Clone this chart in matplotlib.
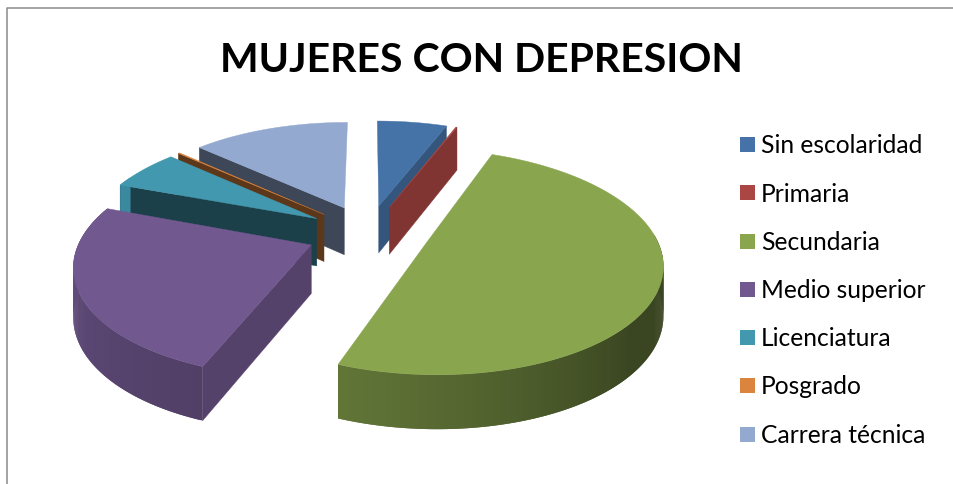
import numpy as np
import matplotlib
matplotlib.use('Agg')
import matplotlib.pyplot as plt
from matplotlib.patches import Polygon, Rectangle

# Exploded 3D pie drawn by hand, matplotlib has no real 3D pie

categories = ['Sin escolaridad', 'Primaria', 'Secundaria', 'Medio superior',
              'Licenciatura', 'Posgrado', 'Carrera técnica']
values = [5.85, 0.1, 49.88, 24.81, 6.03, 0.13, 13.2]
colors = ['#4572a7', '#aa4643', '#89a54e', '#71588f', '#4198af', '#db843d', '#93a9cf']

# projection of the pie plane into the pixel space of the figure
cx, cy = 368, 233
scale_x, scale_y = 229, 106.6
persp = 0.16
explode = 0.267
depth = 48


def project(x, y):
    s = 1 / (1 + persp * y)
    return cx + scale_x * x * s, cy - scale_y * y * s


def drop(y):
    # height of the side wall, a bit taller towards the viewer
    return depth * (1 / (1 + persp * y)) ** 0.65


def shade(color, f):
    rgb = np.array(matplotlib.colors.to_rgb(color))
    return tuple(rgb * f)


def wall_light(theta):
    # light on the outer wall, darkest on the right side of the pie
    return np.interp(theta % 360, [90, 130, 175, 203, 240, 290], [0.42, 0.42, 0.62, 0.72, 0.8, 0.9])


def draw_slice(ax, start, end, color):
    mid = np.radians((start + end) / 2)
    ox, oy = explode * np.sin(mid), explode * np.cos(mid)
    theta = np.linspace(start, end, max(int(end - start) * 2, 2) + 1)
    xs = ox + np.sin(np.radians(theta))
    ys = oy + np.cos(np.radians(theta))

    # radial faces, only those turned to the viewer
    for ang, ex, ey, side in [(start, xs[0], ys[0], -1), (end, xs[-1], ys[-1], 1)]:
        a = np.radians(ang)
        nx, ny = side * np.cos(a), -side * np.sin(a)
        if ny >= 0:
            continue
        f = 0.75 if nx > 0 else 0.42
        px = np.array(project(np.array([ox, ex]), np.array([oy, ey])))
        d = drop(np.array([oy, ey]))
        quad = [(px[0][0], px[1][0]), (px[0][1], px[1][1]),
                (px[0][1], px[1][1] + d[1]), (px[0][0], px[1][0] + d[0])]
        ax.add_patch(Polygon(quad, closed=True, fc=shade(color, f), ec=shade(color, f), lw=0.3))

    # outer wall, each strip runs under the next one so no seams show
    px, py = project(xs, ys)
    d = drop(ys)
    for i in range(len(theta) - 1):
        t = (theta[i] + theta[i + 1]) / 2
        if not 85 < t % 360 < 295:
            continue
        j = min(i + 2, len(theta) - 1)
        quad = [(px[i], py[i]), (px[j], py[j]), (px[j], py[j] + d[j]), (px[i], py[i] + d[i])]
        ax.add_patch(Polygon(quad, closed=True, fc=shade(color, wall_light(t)), ec='none'))

    # top of the slice
    ax0, ay0 = project(ox, oy)
    top = [(ax0, ay0)] + list(zip(px, py))
    ax.add_patch(Polygon(top, closed=True, fc=color, ec=color, lw=0.3))


fig = plt.figure(figsize=(9.54, 4.84), dpi=100)
ax = fig.add_axes([0, 0, 1, 1])
ax.set_xlim(0, 954)
ax.set_ylim(484, 0)
ax.axis('off')

# chart frame, cropped at the right and at the bottom
ax.plot([7.5, 7.5, 954], [484, 7.5, 7.5], color='#8a8a8a', lw=1.1)

bounds = np.concatenate([[0], np.cumsum(values)]) / np.sum(values) * 360

# back slices first so the front ones cover them
for i in [6, 0, 1, 5, 4, 3, 2]:
    draw_slice(ax, bounds[i], bounds[i + 1], colors[i])

ax.text(481, 60, 'MUJERES CON DEPRESION', fontsize=29.5, fontweight='bold',
        family='Lato', ha='center', va='center', color='black')

legend_y = [144, 192.5, 241, 289, 337, 385.5, 434]
for name, col, y in zip(categories, colors, legend_y):
    ax.add_patch(Rectangle((740, y - 7.5), 15, 15, fc=col, ec='none'))
    ax.text(761, y + 1.5, name, fontsize=17.7, family='Lato', ha='left', va='center', color='black')

fig.savefig('out.png', dpi=100)
